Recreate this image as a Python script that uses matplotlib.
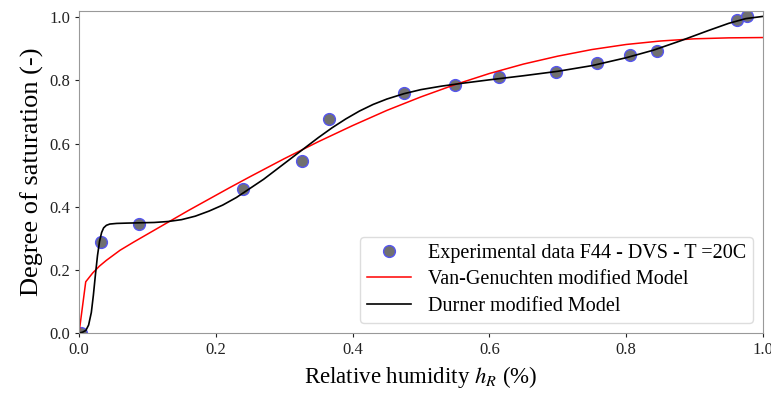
import numpy as np
import matplotlib.pyplot as plt

plt.rcParams['font.family'] = ['Liberation Serif', 'DejaVu Serif']
plt.rcParams['mathtext.fontset'] = 'stix'

# experimental points
hr_exp = [0.003, 0.032, 0.088, 0.240, 0.326, 0.365, 0.475, 0.550, 0.614,
          0.697, 0.757, 0.806, 0.845, 0.962, 0.977]
s_exp = [0.0, 0.289, 0.345, 0.455, 0.544, 0.677, 0.759, 0.786, 0.810,
         0.826, 0.854, 0.880, 0.892, 0.993, 1.003]

# Van-Genuchten modified model
hr_vg = [0.0, 0.0098, 0.02, 0.03, 0.04, 0.05, 0.06, 0.08, 0.10, 0.12, 0.14,
         0.16, 0.18, 0.20, 0.22, 0.25, 0.30, 0.35, 0.40, 0.45, 0.50, 0.55,
         0.60, 0.65, 0.70, 0.75, 0.80, 0.85, 0.90, 0.95, 1.0]
s_vg = [0.0, 0.162, 0.19, 0.212, 0.23, 0.246, 0.262, 0.288, 0.313, 0.338, 0.363,
        0.388, 0.412, 0.436, 0.46, 0.495, 0.552, 0.606, 0.657, 0.705, 0.748, 0.787,
        0.822, 0.852, 0.877, 0.898, 0.914, 0.925, 0.932, 0.935, 0.936]

# Durner modified model
hr_du = [0.0, 0.005, 0.01, 0.014, 0.018, 0.021, 0.024, 0.027, 0.030, 0.033,
         0.036, 0.040, 0.045, 0.055, 0.07, 0.09, 0.11, 0.13, 0.15, 0.17, 0.19,
         0.21, 0.23, 0.25, 0.27, 0.29, 0.31, 0.33, 0.35, 0.37, 0.39, 0.41,
         0.43, 0.45, 0.475, 0.50, 0.53, 0.56, 0.60, 0.65, 0.70, 0.75, 0.80,
         0.84, 0.88, 0.92, 0.95, 0.975, 1.0]
s_du = [0.0, 0.002, 0.008, 0.025, 0.065, 0.12, 0.185, 0.245, 0.29, 0.318,
        0.333, 0.341, 0.345, 0.347, 0.348, 0.349, 0.35, 0.353, 0.359, 0.37, 0.386,
        0.405, 0.429, 0.458, 0.487, 0.52, 0.553, 0.586, 0.619, 0.65, 0.678, 0.703,
        0.724, 0.741, 0.758, 0.771, 0.782, 0.791, 0.802, 0.815, 0.829, 0.847, 0.872,
        0.896, 0.926, 0.958, 0.981, 0.996, 1.003]

fig = plt.figure(figsize=(7.71, 3.94), dpi=100)
ax = fig.add_axes([0.1025, 0.155, 0.887, 0.817])

ax.plot(hr_exp, s_exp, 'o', markersize=8.5, markerfacecolor='#707070',
        markeredgecolor='#5555ee', markeredgewidth=1.0,
        label='Experimental data F44 - DVS - T =20C')
ax.plot(hr_vg, s_vg, color='red', linewidth=1.1, label='Van-Genuchten modified Model')
ax.plot(hr_du, s_du, color='black', linewidth=1.2, label='Durner modified Model')

ax.set_xlim(0, 1.0)
ax.set_ylim(0, 1.02)
ax.set_xticks([0.0, 0.2, 0.4, 0.6, 0.8, 1.0])
ax.set_yticks([0.0, 0.2, 0.4, 0.6, 0.8, 1.0])
ax.tick_params(labelsize=12, colors='#222222', length=3)
for sp in ax.spines.values():
    sp.set_color('#999999')

ax.set_xlabel(r'Relative humidity $h_R$ (%)', fontsize=16.5)
ax.set_ylabel('Degree of saturation (-)', fontsize=19)

ax.legend(loc='lower right', fontsize=14.5, handlelength=2.2, framealpha=1,
          edgecolor='#dddddd', labelspacing=0.37, borderpad=0.35)

plt.savefig('out.png')
